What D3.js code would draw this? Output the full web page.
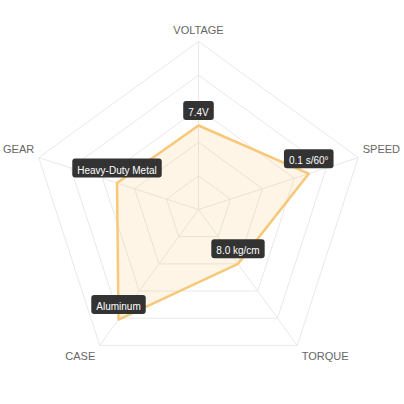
<!DOCTYPE html>
<html>
<head>
<meta charset="utf-8">
<script src="https://cdn.jsdelivr.net/npm/d3@7"></script>
<style>
  body { margin: 0; background: #fff; }
  svg { display: block; font-family: "Liberation Sans", Arial, sans-serif; }
</style>
</head>
<body>
<div id="chart"></div>
<script>
var width = 404
var height = 404

// chart data
var axes = ['VOLTAGE', 'SPEED', 'TORQUE', 'CASE', 'GEAR']
var values = [50, 69, 40, 81, 51]
var valueLabels = ['7.4V', '0.1 s/60°', '8.0 kg/cm', 'Aluminum', 'Heavy-Duty Metal']
var gridLevels = [20, 40, 60, 80, 100]

var cx = 198.5, cy = 209.5, radius = 168

var svg = d3.select('#chart').append('svg')
  .attr('width', width)
  .attr('height', height)

var r = d3.scaleLinear().domain([0, 100]).range([0, radius])
var angle = d3.scalePoint().domain(axes).range([0, 2 * Math.PI * (axes.length - 1) / axes.length])

function pos(axis, v) {
  var a = angle(axis)
  return [cx + Math.sin(a) * r(v), cy - Math.cos(a) * r(v)]
}

var line = d3.line()
  .x(function(d){ return d[0] })
  .y(function(d){ return d[1] })
  .curve(d3.curveLinearClosed)

var g = svg.append('g')

// grid pentagons
g.selectAll('.grid').data(gridLevels).enter().append('path')
  .attr('class', 'grid')
  .attr('d', function(lv){ return line(axes.map(function(a){ return pos(a, lv) })) })
  .attr('fill', 'none')
  .attr('stroke', '#e9e9e9')
  .attr('stroke-width', 1)

// spokes
g.selectAll('.spoke').data(axes).enter().append('line')
  .attr('class', 'spoke')
  .attr('x1', cx).attr('y1', cy)
  .attr('x2', function(a){ return pos(a, 100)[0] })
  .attr('y2', function(a){ return pos(a, 100)[1] })
  .attr('stroke', '#e9e9e9')
  .attr('stroke-width', 1)

// area
var pts = axes.map(function(a, i){ return pos(a, values[i]) })
g.append('path')
  .attr('d', line(pts))
  .attr('fill', 'rgb(247, 196, 112)')
  .attr('fill-opacity', 0.17)
  .attr('stroke', 'rgb(247, 200, 120)')
  .attr('stroke-width', 2.5)
  .attr('stroke-linejoin', 'round')

// axis names
g.selectAll('.axis-name').data(axes).enter().append('text')
  .attr('class', 'axis-name')
  .attr('font-size', 11)
  .attr('fill', '#666')
  .text(function(a){ return a })
  .each(function(a){
    var p = pos(a, 100)
    var s = Math.sin(angle(a)), c = Math.cos(angle(a))
    var t = d3.select(this)
    var anchor = Math.abs(s) < 0.01 ? 'middle' : (s > 0 ? 'start' : 'end')
    var x = p[0] + (Math.abs(s) < 0.01 ? 0 : (s > 0 ? 4.5 : -4.5))
    var y
    if (c > 0.9) { y = p[1] - 8 }
    else if (c > 0) { y = p[1] - 5 }
    else { y = p[1] + 14.5 }
    t.attr('x', x).attr('y', y).attr('text-anchor', anchor)
  })

// value labels
var tips = g.selectAll('.tip').data(axes).enter().append('g')
  .attr('class', 'tip')
  .attr('transform', function(a, i){ var p = pos(a, values[i]); return 'translate(' + p[0] + ',' + p[1] + ')' })

tips.append('rect')
  .attr('rx', 3).attr('ry', 3)
  .attr('fill', '#333')

tips.append('text')
  .attr('font-size', 10)
  .attr('fill', '#fff')
  .attr('text-anchor', 'middle')
  .attr('y', -9.5)
  .text(function(a, i){ return valueLabels[i] })

tips.each(function(){
  var t = d3.select(this)
  var w = t.select('text').node().getComputedTextLength() + 10
  t.select('rect')
    .attr('x', -w / 2).attr('y', -24.5)
    .attr('width', w).attr('height', 19)
})
</script>
</body>
</html>
